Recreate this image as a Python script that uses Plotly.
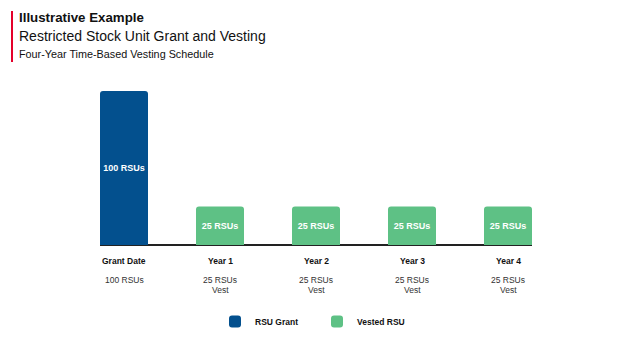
import plotly.graph_objects as go

categories = ["Grant Date", "Year 1", "Year 2", "Year 3", "Year 4"]
grant_values = [100, None, None, None, None]
vested_values = [None, 25, 25, 25, 25]
bar_labels = ["100 RSUs", "25 RSUs", "25 RSUs", "25 RSUs", "25 RSUs"]
sub_labels = ["100 RSUs", "25 RSUs", "25 RSUs", "25 RSUs", "25 RSUs"]
sub_labels2 = ["", "Vest", "Vest", "Vest", "Vest"]

BLUE = "#03508e"
GREEN = "#5ec185"
FONT = "Liberation Sans, Arial, sans-serif"

L, R, T, B = 100, 92, 91, 106
W, H = 624, 351
pw, ph = W - L - R, H - T - B

def px_x(px):
    return (px - L) / pw

def px_y(py):
    return (H - B - py) / ph

fig = go.Figure()
fig.add_trace(go.Bar(
    x=categories, y=grant_values, name="RSU Grant",
    marker=dict(color=BLUE, line=dict(width=0)),
    text=[bar_labels[0], "", "", "", ""], textposition="inside",
    insidetextanchor="middle",
    textfont=dict(color="white", size=9, family=FONT, weight="bold"),
    width=0.5, hoverinfo="skip",
))
fig.add_trace(go.Bar(
    x=categories, y=vested_values, name="Vested RSU",
    marker=dict(color=GREEN, line=dict(width=0)),
    text=[""] + bar_labels[1:], textposition="inside",
    insidetextanchor="middle",
    textfont=dict(color="white", size=9, family=FONT, weight="bold"),
    width=0.5, hoverinfo="skip",
))

annotations = []
for i, c in enumerate(categories):
    annotations.append(dict(
        x=c, xref="x", y=px_y(260.5), yref="paper", text="<b>%s</b>" % c,
        showarrow=False, xanchor="center", yanchor="middle",
        font=dict(size=8.5, color="#111111", family=FONT),
    ))
    annotations.append(dict(
        x=c, xref="x", y=px_y(279.5), yref="paper", text=sub_labels[i],
        showarrow=False, xanchor="center", yanchor="middle",
        font=dict(size=8.5, color="#333333", family=FONT),
    ))
    if sub_labels2[i]:
        annotations.append(dict(
            x=c, xref="x", y=px_y(289.5), yref="paper", text=sub_labels2[i],
            showarrow=False, xanchor="center", yanchor="middle",
            font=dict(size=8.5, color="#333333", family=FONT),
        ))

annotations += [
    dict(x=px_x(17), xref="paper", y=px_y(17.5), yref="paper",
         text="<b>Illustrative Example</b>", showarrow=False,
         xanchor="left", yanchor="middle",
         font=dict(size=13.3, color="#111111", family=FONT)),
    dict(x=px_x(17), xref="paper", y=px_y(36.5), yref="paper",
         text="Restricted Stock Unit Grant and Vesting", showarrow=False,
         xanchor="left", yanchor="middle",
         font=dict(size=14, color="#111111", family=FONT)),
    dict(x=px_x(17), xref="paper", y=px_y(54), yref="paper",
         text="Four-Year Time-Based Vesting Schedule", showarrow=False,
         xanchor="left", yanchor="middle",
         font=dict(size=10.8, color="#111111", family=FONT)),
]

shapes = [
    dict(type="rect", xref="paper", yref="paper",
         x0=px_x(11), x1=px_x(13), y0=px_y(62), y1=px_y(11),
         fillcolor="#e4002b", line=dict(width=0)),
]

fig.update_layout(
    width=W, height=H,
    margin=dict(l=L, r=R, t=T, b=B, pad=0),
    paper_bgcolor="white", plot_bgcolor="white",
    barmode="overlay", barcornerradius=3,
    showlegend=True,
    legend=dict(orientation="h", x=px_x(215), xanchor="left", y=px_y(321.5), yanchor="middle",
                font=dict(size=8.5, color="#111111", family=FONT, weight="bold"),
                itemwidth=30, traceorder="normal", entrywidth=57),
    xaxis=dict(range=[-0.25, 4.25], showticklabels=False, showgrid=False,
               zeroline=False, showline=False, ticks="", fixedrange=True),
    yaxis=dict(range=[0, 100], showticklabels=False, showgrid=False,
               zeroline=True, zerolinecolor="#222222", zerolinewidth=1.5,
               showline=False, ticks="", fixedrange=True),
    annotations=annotations, shapes=shapes,
    uniformtext=dict(minsize=8, mode="show"),
)

fig.write_html("out.html")
